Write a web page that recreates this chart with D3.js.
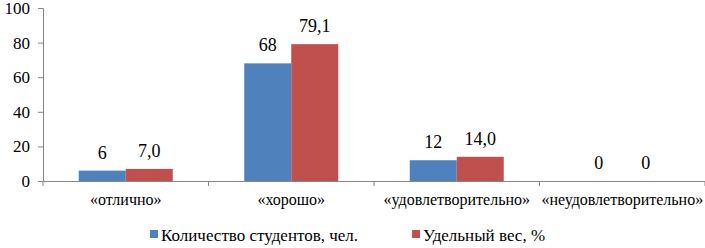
<!DOCTYPE html>
<html>
<head>
<meta charset="utf-8">
<script src="https://cdn.jsdelivr.net/npm/d3@7"></script>
<style>
  body { margin: 0; background: #fff; }
</style>
</head>
<body>
<div id="chart"></div>
<script>
const categories = ["«отлично»", "«хорошо»", "«удовлетворительно»", "«неудовлетворительно»"];
const students = [6, 68, 12, 0];
const share = [7.0, 79.1, 14.0, 0];
const studentLabels = ["6", "68", "12", "0"];
const shareLabels = ["7,0", "79,1", "14,0", "0"];
const yTicks = [0, 20, 40, 60, 80, 100];
const seriesNames = ["Количество студентов, чел.", "Удельный вес, %"];
const colors = ["#4F81BD", "#C0504D"];

const W = 705, H = 248;
const margin = {top: 8, right: 0, bottom: 67, left: 43};

const svg = d3.select('#chart').append('svg')
  .attr('width', W)
  .attr('height', H);

const x = d3.scaleBand()
  .domain(categories)
  .range([margin.left, W - margin.right]);

const y = d3.scaleLinear()
  .domain([0, 100])
  .range([H - margin.bottom, margin.top]);

const barW = 47;

// y axis
const yAxis = svg.append('g')
  .attr('transform', `translate(${margin.left},0)`)
  .call(d3.axisLeft(y).tickValues(yTicks).tickSize(5).tickPadding(8));
yAxis.selectAll('path, line').attr('stroke', '#868686');
yAxis.selectAll('text').style('font-size', '17px').attr('fill', '#000');

// x axis
const xAxis = svg.append('g')
  .attr('transform', `translate(0,${y(0)})`)
  .call(d3.axisBottom(x).tickSize(0).tickSizeOuter(0).tickPadding(13));
xAxis.selectAll('path').attr('stroke', '#868686');
xAxis.selectAll('text').style('font-size', '16px').attr('fill', '#000');
// category dividers
xAxis.selectAll('.sep')
  .data(d3.range(categories.length + 1))
  .join('line')
  .attr('class', 'sep')
  .attr('x1', i => margin.left + i * x.bandwidth())
  .attr('x2', i => margin.left + i * x.bandwidth())
  .attr('y1', 0).attr('y2', 5)
  .attr('stroke', '#868686');

const series = [students, share];
const labels = [studentLabels, shareLabels];

series.forEach((vals, s) => {
  const g = svg.append('g');
  const bx = (d, i) => x(categories[i]) + x.bandwidth() / 2 - barW + s * barW;
  g.selectAll('rect')
    .data(vals)
    .join('rect')
    .attr('x', bx)
    .attr('y', d => y(d))
    .attr('width', barW)
    .attr('height', d => y(0) - y(d))
    .attr('fill', colors[s]);
  g.selectAll('text')
    .data(vals)
    .join('text')
    .attr('x', (d, i) => bx(d, i) + barW / 2)
    .attr('y', d => y(d) - 12)
    .attr('text-anchor', 'middle')
    .style('font-size', '18px')
    .text((d, i) => labels[s][i]);
});

// legend
const legend = svg.append('g').attr('transform', `translate(150,241)`);
const legendX = [0, 262];
seriesNames.forEach((name, i) => {
  legend.append('rect')
    .attr('x', legendX[i]).attr('y', -11)
    .attr('width', 8).attr('height', 8)
    .attr('fill', colors[i]);
  legend.append('text')
    .attr('x', legendX[i] + 11).attr('y', 0)
    .style('font-size', '17px')
    .text(name);
});

svg.selectAll('text').style('font-family', '"Liberation Serif"');
</script>
</body>
</html>
